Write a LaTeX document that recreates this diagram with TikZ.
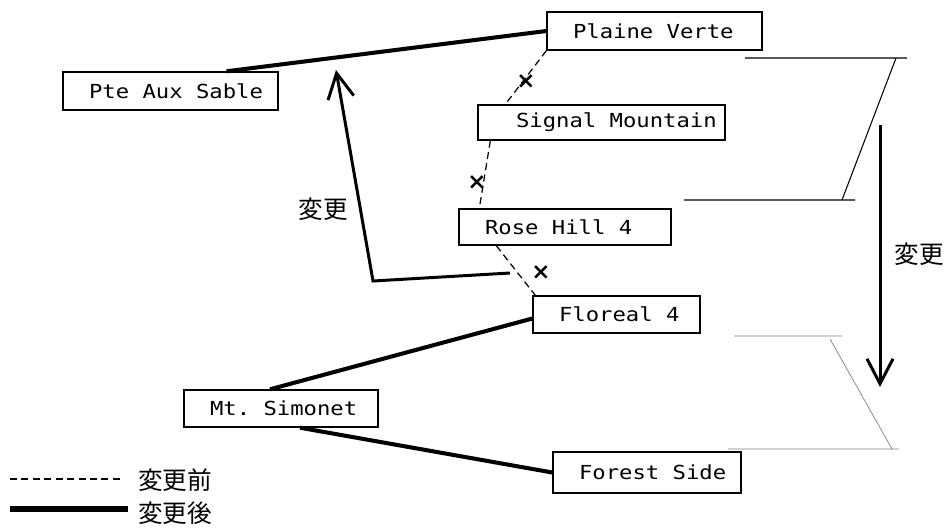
\documentclass[tikz,border=0pt]{standalone}
\usepackage{fontspec}
\usepackage{tikz}
\usetikzlibrary{arrows.meta,calc}
\newfontfamily\stnfont[FakeStretch=1.15]{DejaVu Sans Mono}
\newfontfamily\cutfont{DejaVu Sans}
\newfontfamily\jpfont{Noto Sans CJK JP}
% one character cell of the station font
\newcommand\blank{\hspace*{0.268cm}}

\begin{document}
\begin{tikzpicture}[x=0.02cm,y=-0.02cm,
  stn/.style={draw,line width=0.8pt,inner xsep=0pt,inner ysep=0pt,align=left,
    font=\stnfont\fontsize{11}{13}\selectfont},
  old/.style={line width=0.7pt,dash pattern=on 4pt off 2.5pt},
  new/.style={line width=2.3pt},
  chg/.style={line width=1.7pt,-{Straight Barb[length=0.5cm,width=0.52cm]}},
  cut/.style={font=\cutfont\bfseries\fontsize{13}{13}\selectfont,inner sep=0pt},
  jp/.style={font=\jpfont\fontsize{14}{16}\selectfont,inner sep=1pt}]
\useasboundingbox (0,0) rectangle (949,528);

% stations
\node[stn,text width=4.3cm,minimum height=0.76cm] (pas) at (170.5,91) {\hspace*{0.52cm}Pte\blank Aux\blank Sable};
\node[stn,text width=4.3cm,minimum height=0.76cm] (pv) at (654.5,31) {\hspace*{0.52cm}Plaine\blank Verte};
\node[stn,text width=4.94cm,minimum height=0.70cm] (sm) at (601.5,122.5) {\hspace*{0.76cm}Signal\blank Mountain};
\node[stn,text width=4.24cm,minimum height=0.72cm] (rh) at (565,227) {\hspace*{0.52cm}Rose\blank Hill\blank 4};
\node[stn,text width=3.34cm,minimum height=0.74cm] (fl) at (616.5,314.5) {\hspace*{0.52cm}Floreal\blank 4};
\node[stn,text width=3.76cm,minimum height=0.82cm] (fs) at (647,472.5) {\hspace*{0.52cm}Forest\blank Side};
\node[stn,text width=3.88cm,minimum height=0.74cm] (ms) at (281,408.5) {\hspace*{0.52cm}Mt.\blank Simonet};

% lines after the change
\draw[new] ($(pas.north)+(56,0)$) -- (pv.west);
\draw[new] ($(fl.west)+(0,4)$) -- ($(ms.north)+(-11,0)$);
\draw[new] ($(ms.south)+(19,0)$) -- (fs.west);

% lines before the change
\draw[old] (pv.south west) -- ($(sm.north west)+(28,0)$);
\draw[old] ($(sm.south west)+(13,0)$) -- ($(rh.north west)+(21,0)$);
\draw[old] ($(rh.south west)+(38,0)$) -- ($(fl.north west)+(3,0)$);
\node[cut] (x1) at (526,82) {×};
\node[cut] (x2) at (477,183) {×};
\node[cut] (x3) at (541,273) {×};

% rerouting
\coordinate (a0) at (510,273);
\coordinate (a1) at (373,281);
\coordinate (a2) at (336,70);
\draw[chg] (a0) -- (a1) -- (a2);
\node[jp] (l1) at (323,209) {変更};
\coordinate (b0) at (880,125);
\coordinate (b1) at (880,387);
\draw[chg] (b0) -- (b1);
\node[jp] (l2) at (919,254) {変更};

% break marks
\draw[line width=0.6pt] (745,58) -- (907,58) (896,58) -- (842,200) (684,200) -- (855,200);
\draw[line width=0.4pt,gray] (734,336) -- (842,336) (830,339) -- (892,449) (728,449) -- (899,449);

% legend
\draw[old] (10,479) -- (122,479);
\node[jp,anchor=west] (k1) at (136,480) {変更前};
\draw[line width=3.2pt] (10,509) -- (128,509);
\node[jp,anchor=west] (k2) at (136,513) {変更後};
\end{tikzpicture}
\end{document}
